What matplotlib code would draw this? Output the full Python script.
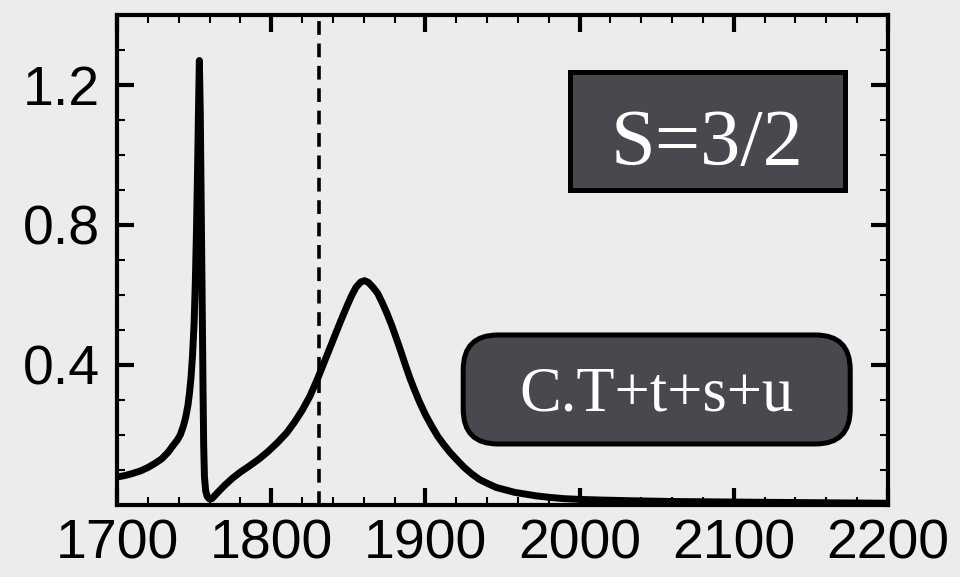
import matplotlib
matplotlib.use("Agg")
import matplotlib.pyplot as plt
from matplotlib.patches import FancyBboxPatch
from matplotlib.ticker import MultipleLocator, FixedLocator

# ---------------------------------------------------------------------------
# Data
# ---------------------------------------------------------------------------
energy = [1700, 1705, 1710, 1715, 1720, 1725, 1729, 1733, 1736, 1739, 1741,
          1743, 1744.5, 1746, 1747, 1748, 1749, 1750, 1750.8, 1751.5, 1752.2,
          1752.8, 1753.4, 1754, 1754.5, 1755, 1755.4, 1755.8, 1756.2, 1756.7,
          1757.5, 1758.5, 1760, 1761.5, 1763, 1766, 1770, 1775, 1780, 1786,
          1792, 1798, 1804, 1810, 1815, 1820, 1825, 1830, 1835, 1840, 1845,
          1849, 1852, 1855, 1858, 1860.5, 1863, 1866, 1869, 1872, 1875, 1878,
          1881, 1884, 1887, 1890, 1893, 1896, 1900, 1904, 1908, 1912, 1916,
          1920, 1925, 1930, 1935, 1940, 1946, 1952, 1958, 1965, 1972, 1980,
          1990, 2000, 2015, 2035, 2060, 2085, 2110, 2140, 2170, 2200]
signal = [0.080, 0.084, 0.090, 0.097, 0.107, 0.120, 0.132, 0.150, 0.168, 0.185, 0.200,
          0.225, 0.250, 0.285, 0.320, 0.365, 0.430, 0.520, 0.640, 0.780, 0.950,
          1.120, 1.270, 1.120, 0.900, 0.680, 0.500, 0.320, 0.170, 0.080,
          0.040, 0.024, 0.017, 0.018, 0.025, 0.039, 0.057, 0.077, 0.094, 0.112,
          0.131, 0.153, 0.178, 0.206, 0.236, 0.270, 0.310, 0.360, 0.415, 0.470, 0.525,
          0.567, 0.597, 0.622, 0.637, 0.641, 0.636, 0.622, 0.605, 0.578, 0.548, 0.515,
          0.478, 0.440, 0.400, 0.362, 0.328, 0.296, 0.258, 0.226, 0.196, 0.172, 0.150,
          0.131, 0.108, 0.089, 0.073, 0.062, 0.050, 0.043, 0.036, 0.031, 0.026, 0.022,
          0.018, 0.016, 0.014, 0.012, 0.010, 0.009, 0.008, 0.007, 0.006, 0.005]

threshold = 1831
x_ticks = [1700, 1800, 1900, 2000, 2100, 2200]
y_ticks = [0.4, 0.8, 1.2]
spin_label = "S=3/2"
channel_label = "C.T+t+s+u"

BG = "#ececec"
BOX = "#48484f"

plt.rcParams["font.family"] = ["Liberation Sans", "DejaVu Sans"]

fig = plt.figure(figsize=(9.6, 5.77), dpi=100)
fig.patch.set_facecolor(BG)
ax = fig.add_axes([0.1219, 0.1248, 0.8031, 0.8492])
ax.set_facecolor(BG)

ax.plot(energy, signal, color="black", linewidth=5, solid_joinstyle="round",
        solid_capstyle="butt", zorder=3)
ax.axvline(threshold, color="black", linewidth=2.6, linestyle=(0, (3.8, 2.4)), zorder=2)

ax.set_xlim(1700, 2200)
ax.set_ylim(0, 1.4)
ax.xaxis.set_major_locator(FixedLocator(x_ticks))
ax.xaxis.set_minor_locator(MultipleLocator(20))
ax.yaxis.set_major_locator(FixedLocator(y_ticks))
ax.yaxis.set_minor_locator(MultipleLocator(0.1))
ax.set_xticklabels([str(v) for v in x_ticks])
ax.set_yticklabels([f"{v:.1f}" for v in y_ticks])

ax.tick_params(which="both", direction="in", top=True, right=True, labelsize=40)
ax.tick_params(which="major", length=12, width=3, pad=12)
ax.tick_params(which="minor", length=6, width=1.5)
ax.tick_params(axis="x", which="major", pad=10)
for spine in ax.spines.values():
    spine.set_linewidth(3)

# S=3/2 box (square corners)
ax.add_patch(FancyBboxPatch((0.5875, 0.643), 0.3565, 0.241,
                            boxstyle="square,pad=0", transform=ax.transAxes,
                            facecolor=BOX, edgecolor="black", linewidth=3.6,
                            zorder=4))
ax.text(0.7655, 0.694, spin_label, transform=ax.transAxes, ha="center",
        va="baseline", fontsize=58, color="white", family="Liberation Serif",
        zorder=5)

# channel box (rounded)
ax.add_patch(FancyBboxPatch((0.449, 0.1245), 0.502, 0.2225,
                            boxstyle="round,pad=0,rounding_size=0.045",
                            mutation_aspect=771 / 490, transform=ax.transAxes,
                            facecolor=BOX, edgecolor="black", linewidth=3.6,
                            zorder=4))
ax.text(0.700, 0.1925, channel_label, transform=ax.transAxes, ha="center",
        va="baseline", fontsize=45, color="white", family="Liberation Serif",
        zorder=5)

fig.savefig("out.png", dpi=100, facecolor=BG)
